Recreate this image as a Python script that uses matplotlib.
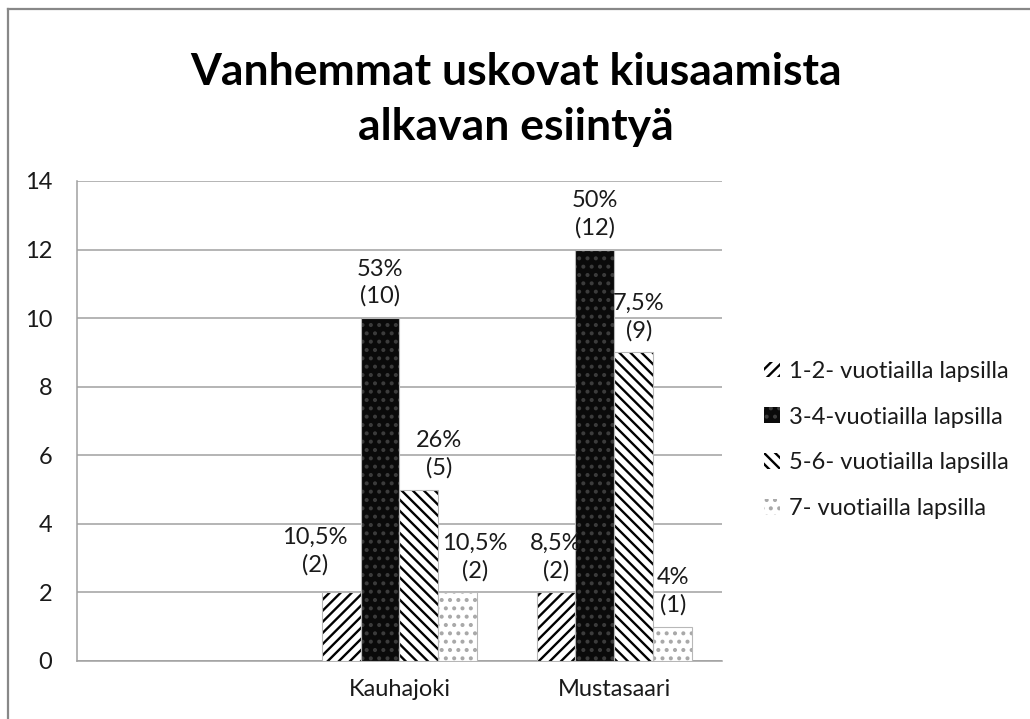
import numpy as np
import matplotlib
matplotlib.use('Agg')
import matplotlib.pyplot as plt
from matplotlib.lines import Line2D

plt.rcParams['font.family'] = ['Lato', 'DejaVu Sans']
plt.rcParams['hatch.linewidth'] = 1.7

# data
categories = ['', 'Kauhajoki', 'Mustasaari']
series = ['1-2- vuotiailla lapsilla', '3-4-vuotiailla lapsilla',
          '5-6- vuotiailla lapsilla', '7- vuotiailla lapsilla']
age_12 = [np.nan, 2, 2]
age_34 = [np.nan, 10, 12]
age_56 = [np.nan, 5, 9]
age_7 = [np.nan, 2, 1]
pct_12 = ['', '10,5%', '8,5%']
pct_34 = ['', '53%', '50%']
pct_56 = ['', '26%', '7,5%']
pct_7 = ['', '10,5%', '4%']
yticks = [0, 2, 4, 6, 8, 10, 12, 14]

values = [age_12, age_34, age_56, age_7]
pcts = [pct_12, pct_34, pct_56, pct_7]

# bar styles: facecolor, hatch colour, hatch
styles = [('white', 'black', '///'),
          ('#0a0a0a', '#3c3c3c', '..'),
          ('white', 'black', '\\\\\\'),
          ('white', '#a8a8a8', '..')]

# label nudges in pixels (x, y) for Kauhajoki / Mustasaari
nudges = [[(-26, 6), (0, 0)],
          [(0, 0), (0, 0)],
          [(20, 0), (5, 0)],
          [(17, 0), (0, 0)]]

fs = 17

fig = plt.figure(figsize=(10.30, 7.19), dpi=100)
ax = fig.add_axes([0.0748, 0.0807, 0.626, 0.6676])

x = np.arange(len(categories))
w = 0.181
for i, (vals, pc, st) in enumerate(zip(values, pcts, styles)):
    pos = x + (i - 1.5) * w
    fc, hc, ht = st
    ax.bar(pos, vals, w, color=fc, edgecolor=hc, hatch=ht, linewidth=0,
           label=series[i], zorder=3)
    ax.bar(pos, vals, w, fill=False, edgecolor='#b8b8b8', linewidth=0.8, zorder=4)
    for j in range(1, len(categories)):
        dx, dy = nudges[i][j - 1]
        ax.annotate(f'{pc[j]}\n({vals[j]})', (pos[j], vals[j]),
                    xytext=(dx * 0.72, 8 + dy * 0.72), textcoords='offset points',
                    ha='center', va='bottom', fontsize=fs, color='#1a1a1a',
                    linespacing=1.32, zorder=5)

ax.set_xlim(-0.5, 2.5)
ax.set_ylim(0, 14)
ax.set_yticks(yticks)
ax.set_xticks(x)
ax.set_xticklabels(categories)
ax.tick_params(axis='both', length=0, labelsize=fs, colors='#1a1a1a')
ax.tick_params(axis='y', pad=18)
ax.tick_params(axis='x', pad=13)
ax.grid(axis='y', color='#a0a0a0', linewidth=1.1, zorder=0)
for s in ['top', 'right']:
    ax.spines[s].set_visible(False)
for s in ['left', 'bottom']:
    ax.spines[s].set_color('#a0a0a0')
    ax.spines[s].set_linewidth(1.1)

fig.text(0.501, 0.862, 'Vanhemmat uskovat kiusaamista\nalkavan esiintyä',
         ha='center', va='center', fontsize=32, fontweight='bold',
         linespacing=1.45, color='black')

fig.legend(loc='center left', bbox_to_anchor=(0.742, 0.388), frameon=False,
           fontsize=fs, handlelength=0.65, handleheight=0.65, handletextpad=0.4,
           labelspacing=1.05, borderpad=0, borderaxespad=0, labelcolor='#1a1a1a')

# outer chart frame (top and left edges visible)
fig.add_artist(Line2D([8 / 1030, 8 / 1030], [0, 1 - 9 / 719], transform=fig.transFigure,
                      color='#888888', linewidth=1.6))
fig.add_artist(Line2D([8 / 1030, 1], [1 - 9 / 719, 1 - 9 / 719], transform=fig.transFigure,
                      color='#888888', linewidth=1.6))

fig.savefig('out.png', dpi=100)
